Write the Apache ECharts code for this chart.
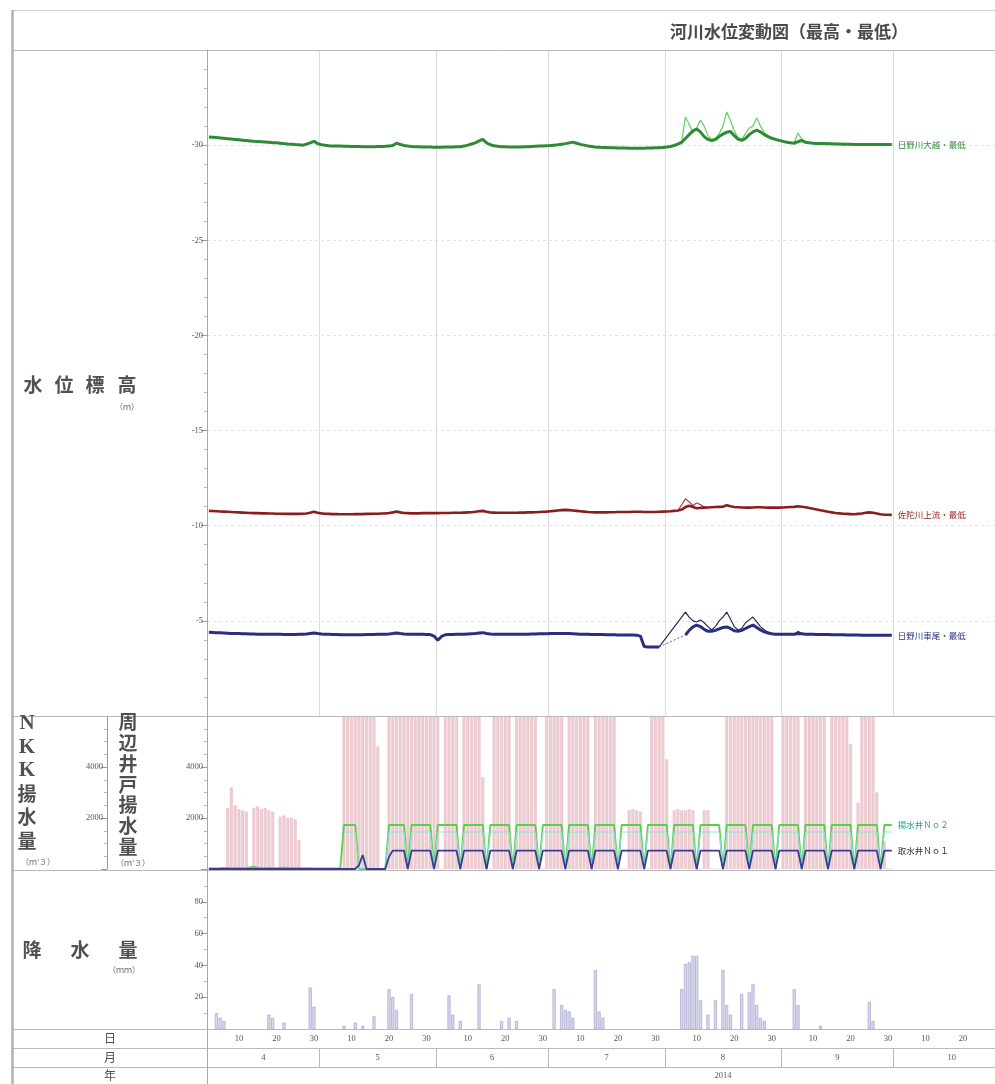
<!DOCTYPE html>
<html>
<head>
<meta charset="utf-8">
<script src="https://cdn.jsdelivr.net/npm/echarts@6/dist/echarts.min.js"></script>
<style>
html,body{margin:0;padding:0;background:#fff;}
#chart{width:995px;height:1084px;}
</style>
</head>
<body>
<div id="chart"></div>
<script>
// ---- calendar (day 0 = 2014-04-01) ----
const DAY_MAX = 210;
const monthStarts = [0, 30, 61, 91, 122, 153, 183, 214];
const monthNames = ['4', '5', '6', '7', '8', '9', '10'];
const dayMarks = [10, 20, 30];
const yearName = '2014';
const YEAR_LABEL_AT = 137.5;

// ---- river water level, daily minimum (m) ----
const ohkoshiMin = [
  30.43,30.42,30.40,30.38,30.36,30.34,30.32,30.30,30.28,30.26,
  30.24,30.22,30.20,30.19,30.18,30.17,30.15,30.13,30.12,30.10,
  30.08,30.06,30.05,30.03,30.02,30.00,30.05,30.12,30.20,30.08,
  30.02,29.99,29.97,29.96,29.95,29.95,29.94,29.94,29.93,29.93,
  29.93,29.92,29.92,29.92,29.92,29.93,29.93,29.94,29.96,29.98,
  30.10,30.04,29.98,29.95,29.93,29.92,29.91,29.90,29.90,29.90,
  29.89,29.89,29.89,29.90,29.90,29.90,29.91,29.92,29.95,30.00,
  30.06,30.12,30.22,30.30,30.12,30.02,29.97,29.94,29.92,29.91,
  29.90,29.90,29.90,29.90,29.91,29.92,29.93,29.94,29.95,29.96,
  29.97,29.98,30.00,30.02,30.05,30.08,30.12,30.16,30.10,30.04,
  30.00,29.96,29.93,29.90,29.89,29.88,29.87,29.86,29.86,29.85,
  29.85,29.85,29.84,29.84,29.84,29.84,29.84,29.85,29.85,29.86,
  29.86,29.88,29.90,29.93,29.98,30.05,30.15,30.35,30.55,30.75,
  30.85,30.70,30.45,30.30,30.24,30.30,30.45,30.58,30.68,30.72,
  30.50,30.32,30.25,30.35,30.55,30.70,30.79,30.70,30.55,30.45,
  30.36,30.30,30.25,30.20,30.15,30.12,30.10,30.18,30.25,30.15,
  30.12,30.10,30.09,30.08,30.08,30.07,30.07,30.06,30.06,30.05,
  30.05,30.05,30.04,30.04,30.04,30.03,30.03,30.03,30.03,30.03,
  30.03,30.03,30.03
];
const sadaMin = [
  10.78,10.77,10.76,10.75,10.74,10.73,10.72,10.71,10.70,10.69,
  10.68,10.67,10.66,10.66,10.65,10.65,10.64,10.64,10.63,10.63,
  10.62,10.62,10.62,10.62,10.62,10.63,10.64,10.68,10.74,10.68,
  10.65,10.63,10.62,10.61,10.61,10.60,10.60,10.60,10.60,10.61,
  10.61,10.61,10.62,10.62,10.63,10.63,10.64,10.65,10.67,10.70,
  10.74,10.70,10.67,10.66,10.65,10.65,10.65,10.66,10.66,10.66,
  10.66,10.66,10.67,10.67,10.67,10.68,10.68,10.68,10.69,10.70,
  10.71,10.73,10.76,10.78,10.73,10.70,10.69,10.68,10.68,10.68,
  10.68,10.68,10.68,10.69,10.69,10.70,10.70,10.71,10.72,10.73,
  10.74,10.76,10.78,10.80,10.82,10.83,10.82,10.80,10.78,10.76,
  10.74,10.72,10.71,10.70,10.70,10.70,10.70,10.71,10.71,10.72,
  10.72,10.72,10.72,10.73,10.73,10.73,10.72,10.72,10.72,10.72,
  10.73,10.74,10.75,10.76,10.78,10.80,10.85,10.98,11.05,10.98,
  10.92,10.94,10.95,10.96,10.97,10.98,10.99,11.00,11.08,11.02,
  10.98,10.97,10.96,10.95,10.95,10.96,10.97,10.97,10.96,10.95,
  10.95,10.95,10.95,10.96,10.97,10.98,10.99,11.02,11.00,10.97,
  10.93,10.89,10.85,10.81,10.77,10.73,10.70,10.67,10.65,10.63,
  10.62,10.61,10.60,10.62,10.64,10.68,10.70,10.68,10.64,10.60,
  10.58,10.58,10.57
];
const kuzumoMin = [
  4.40,4.39,4.38,4.37,4.36,4.35,4.34,4.33,4.33,4.32,
  4.32,4.31,4.31,4.30,4.30,4.30,4.29,4.29,4.29,4.29,
  4.28,4.28,4.28,4.28,4.29,4.30,4.31,4.34,4.36,4.33,
  4.31,4.30,4.29,4.28,4.28,4.27,4.27,4.27,4.27,4.27,
  4.27,4.27,4.28,4.28,4.28,4.29,4.29,4.30,4.31,4.33,
  4.36,4.33,4.31,4.30,4.29,4.29,4.29,4.29,4.28,4.28,
  4.20,3.98,4.18,4.27,4.28,4.28,4.29,4.29,4.30,4.31,
  4.32,4.33,4.36,4.38,4.34,4.31,4.30,4.29,4.29,4.29,
  4.29,4.29,4.29,4.30,4.30,4.30,4.31,4.31,4.32,4.32,
  4.32,4.33,4.33,4.34,4.34,4.34,4.33,4.32,4.31,4.30,
  4.29,4.29,4.28,4.28,4.28,4.28,4.27,4.27,4.27,4.26,
  4.26,4.26,4.26,4.26,4.25,4.20,3.65,3.63,3.63,3.63,
  3.63,null,null,null,null,null,null,4.26,4.50,4.68,
  4.78,4.70,4.55,4.45,4.45,4.50,4.58,4.65,4.68,4.60,
  4.48,4.45,4.50,4.60,4.70,4.78,4.65,4.52,4.42,4.36,
  4.32,4.30,4.29,4.29,4.29,4.29,4.30,4.34,4.32,4.30,
  4.29,4.29,4.28,4.28,4.28,4.28,4.27,4.27,4.27,4.27,
  4.26,4.26,4.26,4.26,4.25,4.25,4.25,4.25,4.25,4.24,
  4.24,4.24,4.24
];
// missing-record stretch, drawn dotted
const kuzumoMinGap = [[120, 3.63], [127, 4.26]];

// ---- river water level, daily maximum around the August floods ([day, m]) ----
const ohkoshiMax = [
  [120,29.88],[124,29.98],[126,30.20],[127,31.48],[128,31.10],[129,30.64],[130,30.90],
  [131,31.32],[132,31.00],[133,30.50],[134,30.30],[135,30.35],[136,30.60],[137,31.00],
  [138,31.74],[139,31.30],[140,30.75],[141,30.40],[142,30.30],[143,30.60],[144,30.90],
  [145,31.00],[146,31.43],[147,31.00],[148,30.65],[149,30.50],[150,30.40],[151,30.32],
  [152,30.25],[153,30.20],[154,30.15],[155,30.12],[156,30.15],[157,30.64],[158,30.30],
  [159,30.15],[160,30.10]
];
const sadaMax = [
  [124,10.78],[125,10.80],[126,11.10],[127,11.42],[128,11.25],[129,11.05],[130,11.20],
  [131,11.10],[132,11.00],[133,10.96]
];
const kuzumoMax = [
  [119,3.63],[120,3.63],[127,5.46],[128,5.20],[129,5.00],[130,4.94],[131,5.05],
  [132,4.90],[133,4.70],[134,4.52],[135,4.70],[136,5.00],[137,5.20],[138,5.46],
  [139,5.10],[140,4.70],[141,4.52],[142,4.60],[143,4.90],[144,5.05],[145,5.20],
  [146,4.95],[147,4.70],[148,4.52],[149,4.41],[150,4.33],[151,4.30],[156,4.30],
  [157,4.45],[158,4.32],[159,4.30]
];

// ---- pumping (m3/day), one row per week starting Tuesday ----
const nearbyWells = [
  [0,0,0,0,0,2400,3200],
  [2500,2350,2300,2250,0,2400,2450],
  [2350,2400,2300,2250,0,2050,2100],
  [2000,2000,1950,1150,0,0,0],
  [0,0,0,0,0,0,0],
  [0,6400,6400,6400,6400,6400,6400],
  [6400,6400,6400,4800,0,0,6400],
  [6400,6400,6400,6400,6400,6400,6400],
  [6400,6400,6400,6400,6400,6400,0],
  [6400,6400,6400,6400,0,6400,6400],
  [6400,6400,6400,3600,0,0,6400],
  [6400,6400,6400,6400,0,6400,6400],
  [6400,6400,6400,6400,0,0,6400],
  [6400,6400,6400,6400,0,6400,6400],
  [6400,6400,6400,6400,0,6400,6400],
  [6400,6400,6400,6400,0,0,0],
  [2300,2350,2300,2250,0,0,6400],
  [6400,6400,6400,4300,0,2300,2350],
  [2300,2300,2350,2300,0,0,2300],
  [2300,0,0,0,0,6400,6400],
  [6400,6400,6400,6400,6400,6400,6400],
  [6400,6400,6400,6400,0,0,6400],
  [6400,6400,6400,6400,0,6400,6400],
  [6400,6400,6400,6400,0,6400,6400],
  [6400,6400,6400,4900,0,2600,6400],
  [6400,6400,6400,3000,0,1100,0],
  [0]
];
const wellNo2 = [
  [20,30,20,30,40,40,30],
  [30,40,30,40,60,90,50],
  [30,30,40,30,30,40,50],
  [40,30,30,30,30,30,30],
  [20,20,20,20,20,20,20],
  [20,1725,1725,1725,1725,0,0],
  [0,0,0,0,0,0,1725],
  [1725,1725,1725,1725,0,1725,1725],
  [1725,1725,1725,1725,0,1725,1725],
  [1725,1725,1725,1725,0,1725,1725],
  [1725,1725,1725,1725,0,1725,1725],
  [1725,1725,1725,1725,0,1725,1725],
  [1725,1725,1725,1725,0,1725,1725],
  [1725,1725,1725,1725,0,1725,1725],
  [1725,1725,1725,1725,0,1725,1725],
  [1725,1725,1725,1725,0,1725,1725],
  [1725,1725,1725,1725,0,1725,1725],
  [1725,1725,1725,1725,0,1725,1725],
  [1725,1725,1725,1725,0,1725,1725],
  [1725,1725,1725,1725,0,1725,1725],
  [1725,1725,1725,1725,0,1725,1725],
  [1725,1725,1725,1725,0,1725,1725],
  [1725,1725,1725,1725,0,1725,1725],
  [1725,1725,1725,1725,0,1725,1725],
  [1725,1725,1725,1725,0,1725,1725],
  [1725,1725,1725,1725,0,1725,1725],
  [1725]
];
const wellNo2b = [
  [null,null,null,null,null,null,null],
  [null,null,null,null,null,null,null],
  [null,null,null,null,null,null,null],
  [null,null,null,null,null,null,null],
  [null,null,null,null,null,null,null],
  [null,1450,1450,1450,1450,0,0],
  [0,0,0,0,0,0,1450],
  [1450,1450,1450,1450,0,1450,1450],
  [1450,1450,1450,1450,0,1450,1450],
  [1450,1450,1450,1450,0,1450,1450],
  [1450,1450,1450,1450,0,1450,1450],
  [1450,1450,1450,1450,0,1450,1450],
  [1450,1450,1450,1450,0,1450,1450],
  [1450,1450,1450,1450,0,1450,1450],
  [1450,1450,1450,1450,0,1450,1450],
  [1450,1450,1450,1450,0,1450,1450],
  [1450,1450,1450,1450,0,1450,1450],
  [1450,1450,1450,1450,0,1450,1450],
  [1450,1450,1450,1450,0,1450,1450],
  [1450,1450,1450,1450,0,1450,1450],
  [1450,1450,1450,1450,0,1450,1450],
  [1450,1450,1450,1450,0,1450,1450],
  [1450,1450,1450,1450,0,1450,1450],
  [1450,1450,1450,1450,0,1450,1450],
  [1450,1450,1450,1450,0,1450,1450],
  [1450,1450,1450,1450,0,1450,1450],
  [1450]
];
const wellNo1 = [
  [0,0,0,0,0,0,0],
  [0,0,0,0,0,0,0],
  [0,0,0,0,0,0,0],
  [0,0,0,0,0,0,0],
  [0,0,0,0,0,0,0],
  [0,0,0,0,0,150,550],
  [0,0,0,0,0,0,480],
  [720,720,720,720,0,720,720],
  [720,720,720,720,0,720,720],
  [720,720,720,720,0,720,720],
  [720,720,720,720,0,720,720],
  [720,720,720,720,0,720,720],
  [720,720,720,720,0,720,720],
  [720,720,720,720,0,720,720],
  [720,720,720,720,0,720,720],
  [720,720,720,720,0,720,720],
  [720,720,720,720,0,720,720],
  [720,720,720,720,0,720,720],
  [720,720,720,720,0,720,720],
  [720,720,720,720,0,720,720],
  [720,720,720,720,0,720,720],
  [720,720,720,720,0,720,720],
  [720,720,720,720,0,720,720],
  [720,720,720,720,0,720,720],
  [720,720,720,720,0,720,720],
  [720,720,720,720,0,720,720],
  [720]
];

// ---- daily rainfall ([day, mm]) ----
const rainfall = [
  [2,10],[3,7],[4,5],[16,9],[17,7],[20,4],[27,26],[28,14],
  [36,2],[39,4],[41,2],[44,8],[48,25],[49,20],[50,12],[54,22],
  [64,21],[65,9],[67,5],[72,28],[78,5],[80,7],[82,5],
  [92,25],[94,15],[95,12],[96,11],[97,7],[103,37],[104,11],[105,7],
  [126,25],[127,41],[128,42],[129,46],[130,46],[131,18],[133,9],
  [135,18],[137,37],[138,15],[139,9],[142,22],[144,23],[145,28],[146,15],[147,7],[148,5],
  [156,25],[157,15],[163,2],[176,17],[177,5]
];

// ---- helpers ----
const flat = rows => rows.reduce((a, r) => a.concat(r), []);
const daily = arr => arr.map((v, i) => [i + 0.5, v]);
const dayPairs = arr => arr.map(p => [p[0] + 0.5, p[1]]);

const JP = '"Noto Sans CJK JP", sans-serif';
const SERIF = '"Liberation Serif", "DejaVu Serif", serif';
const FRAME = '#b9b9b9';
const AXIS = '#9a9a9a';
const CAPTION = '#505050';

// day-of-month labels sit just left of the day they name
const dayLabelText = {};
const dayLabelPos = [];
monthStarts.slice(0, -1).forEach(s => {
  dayMarks.forEach(n => {
    const p = s + n - 1.5;
    if (p < DAY_MAX) { dayLabelPos.push(p); dayLabelText[p.toFixed(1)] = String(n); }
  });
});
const monthLabelText = {};
const monthCenters = monthNames.map((m, i) => {
  const c = (monthStarts[i] + monthStarts[i + 1]) / 2;
  monthLabelText[c.toFixed(1)] = m;
  return c;
});
const monthBounds = monthStarts.filter(s => s <= DAY_MAX);

const G = [
  { left: 207, top: 50, width: 788, height: 666 },
  { left: 207, top: 716, width: 788, height: 153 },
  { left: 207, top: 870, width: 788, height: 159 }
].map(g => Object.assign({ show: false, containLabel: false, outerBoundsMode: 'none' }, g));

const hiddenX = gi => ({
  gridIndex: gi, type: 'value', min: 0, max: DAY_MAX,
  axisLine: { show: false }, axisTick: { show: false }, axisLabel: { show: false }, splitLine: { show: false }
});
const rowLabel = { fontSize: 8.5, color: '#555', fontFamily: SERIF };

const xAxes = [
  Object.assign(hiddenX(0), {
    axisTick: { show: false, customValues: monthBounds },
    splitLine: { show: true, lineStyle: { color: '#dcdcdc', width: 1 } }
  }),
  hiddenX(1),
  {
    gridIndex: 2, type: 'value', min: 0, max: DAY_MAX, position: 'bottom',
    axisLine: { show: false }, axisTick: { show: false }, splitLine: { show: false },
    axisLabel: Object.assign({ customValues: dayLabelPos, formatter: v => dayLabelText[v.toFixed(1)] || '', margin: 5 }, rowLabel)
  },
  {
    gridIndex: 2, type: 'value', min: 0, max: DAY_MAX, position: 'bottom', offset: 19,
    axisLine: { show: false }, splitLine: { show: false },
    axisTick: { show: true, customValues: monthBounds, length: 19, lineStyle: { color: FRAME } },
    axisLabel: Object.assign({ customValues: monthCenters, formatter: v => monthLabelText[v.toFixed(1)] || '', margin: 5 }, rowLabel)
  },
  {
    gridIndex: 2, type: 'value', min: 0, max: DAY_MAX, position: 'bottom', offset: 38,
    axisLine: { show: false }, axisTick: { show: false }, splitLine: { show: false },
    axisLabel: Object.assign({ customValues: [YEAR_LABEL_AT], formatter: () => yearName, margin: 4 }, rowLabel)
  }
];

const tickLabel = { fontSize: 8.5, color: '#555', fontFamily: SERIF, margin: 4 };
const yCommon = (extra) => Object.assign({
  type: 'value',
  axisLine: { show: true, lineStyle: { color: AXIS } },
  axisTick: { show: true, length: 6, lineStyle: { color: AXIS } },
  splitLine: { show: false },
  minorSplitLine: { show: false }
}, extra);
const minor = n => ({ show: true, splitNumber: n, length: 3, lineStyle: { color: '#b5b5b5' } });

const yAxes = [
  yCommon({
    gridIndex: 0, min: 0, max: 35, interval: 5, minorTick: minor(5),
    axisLabel: Object.assign({ formatter: v => (v > 0 && v < 35) ? '-' + v : '' }, tickLabel),
    splitLine: { show: true, lineStyle: { color: '#e3e3e3', type: [3, 3] } }
  }),
  yCommon({
    gridIndex: 1, min: 0, max: 6000, interval: 2000, position: 'left', minorTick: minor(4),
    axisLabel: Object.assign({ formatter: v => (v > 0 && v < 6000) ? String(v) : '' }, tickLabel)
  }),
  yCommon({
    gridIndex: 1, min: 0, max: 6000, interval: 2000, position: 'left', offset: 100, minorTick: minor(4),
    axisLabel: Object.assign({ formatter: v => (v > 0 && v < 6000) ? String(v) : '' }, tickLabel)
  }),
  yCommon({
    gridIndex: 2, min: 0, max: 100, interval: 20, minorTick: minor(2),
    axisLabel: Object.assign({ formatter: v => (v > 0 && v < 100) ? String(v) : '' }, tickLabel)
  })
];

const lineSeries = (name, data, xi, yi, color, width, label, extra) => Object.assign({
  type: 'line', name, data, xAxisIndex: xi, yAxisIndex: yi,
  showSymbol: false, symbol: 'none', connectNulls: false,
  lineStyle: { color, width }, itemStyle: { color },
  endLabel: label ? { show: true, formatter: label, color, fontSize: 8.5, fontFamily: JP, distance: 6 } : { show: false },
  emphasis: { disabled: true }, silent: true
}, extra || {});

const series = [
  lineSeries('日野川大越・最高', dayPairs(ohkoshiMax), 0, 0, '#68d266', 1.3, null, { connectNulls: true }),
  lineSeries('日野川大越・最低', daily(ohkoshiMin), 0, 0, '#2f8a36', 3, '日野川大越・最低'),
  lineSeries('佐陀川上流・最高', dayPairs(sadaMax), 0, 0, '#9c2a2a', 1.1, null, { connectNulls: true }),
  lineSeries('佐陀川上流・最低', daily(sadaMin), 0, 0, '#8a1e1e', 2.6, '佐陀川上流・最低'),
  lineSeries('日野川車尾・最高', dayPairs(kuzumoMax), 0, 0, '#1e1e5c', 1.1, null, { connectNulls: true }),
  lineSeries('日野川車尾・欠測', dayPairs(kuzumoMinGap), 0, 0, '#5a5a8a', 1, null,
    { lineStyle: { color: '#5a5a8a', width: 1, type: [2, 2] } }),
  lineSeries('日野川車尾・最低', daily(kuzumoMin), 0, 0, '#2b2e7e', 3, '日野川車尾・最低'),
  {
    type: 'bar', name: '周辺井戸揚水量', data: daily(flat(nearbyWells)), xAxisIndex: 1, yAxisIndex: 1,
    barWidth: 3, clip: true, silent: true,
    itemStyle: { color: 'rgba(228,176,184,0.62)', borderColor: 'rgba(214,150,160,0.55)', borderWidth: 0.4 }
  },
  lineSeries('揚水井Ｎｏ２', daily(flat(wellNo2)), 1, 2, '#52d34a', 1.8, '揚水井Ｎｏ２'),
  lineSeries('揚水井Ｎｏ２b', daily(flat(wellNo2b)), 1, 2, '#8fe0d8', 1, null),
  lineSeries('取水井Ｎｏ１', daily(flat(wellNo1)), 1, 2, '#3b3b96', 1.8, '取水井Ｎｏ１'),
  {
    type: 'bar', name: '降水量', data: dayPairs(rainfall), xAxisIndex: 2, yAxisIndex: 3,
    barWidth: 3, silent: true,
    itemStyle: { color: '#d8d8ee', borderColor: '#9a9ac6', borderWidth: 0.6 }
  }
];
// the No.2 label is coloured teal like its inner trace
series[8].endLabel.color = '#2aa58e';
series[10].endLabel.color = '#333333';

// ---- frame and side captions ----
const hLine = (y, x1, x2, w, c) => ({ type: 'line', silent: true, z: 50,
  shape: { x1, y1: y, x2, y2: y }, style: { stroke: c || FRAME, lineWidth: w || 1 } });
const vLine = (x, y1, y2, w, c) => ({ type: 'line', silent: true, z: 50,
  shape: { x1: x, y1, x2: x, y2 }, style: { stroke: c || FRAME, lineWidth: w || 1 } });
const txt = (s, x, y, size, font, color, weight) => ({ type: 'text', silent: true, z: 60, x, y,
  style: { text: s, fontSize: size, fontFamily: font || JP, fill: color || CAPTION, fontWeight: weight || 'normal',
    align: 'center', verticalAlign: 'middle', textAlign: 'center', textVerticalAlign: 'middle' } });

const graphics = [
  hLine(10.5, 12, 995, 1.2, '#cfcfcf'),
  hLine(50.5, 12, 995),
  hLine(716.5, 12, 995),
  hLine(870.5, 12, 995),
  hLine(1029.5, 12, 995),
  hLine(1048.5, 12, 995),
  hLine(1067.5, 12, 995),
  vLine(12.5, 10, 1084, 2.5, '#b0b0b0'),
  vLine(207.5, 50, 1084, 1, '#a8a8a8'),
  txt('河川水位変動図（最高・最低）', 789, 32, 17, JP, '#4a4a4a', 'bold'),
  txt('（ｍ）', 127, 407, 8, JP, '#666'),
  txt('（ｍ’３）', 38, 862, 8, JP, '#666'),
  txt('（ｍ’３）', 133, 863, 8, JP, '#666'),
  txt('（ｍｍ）', 124, 970, 8, JP, '#666'),
  txt('日', 110, 1038, 12, JP, CAPTION),
  txt('月', 110, 1057, 12, JP, CAPTION),
  txt('年', 110, 1075, 12, JP, CAPTION)
];
[['水', 33], ['位', 64], ['標', 95], ['高', 127]].forEach(([c, x]) => graphics.push(txt(c, x, 385, 19, JP, CAPTION, 'bold')));
[['降', 32], ['水', 80], ['量', 128]].forEach(([c, x]) => graphics.push(txt(c, x, 950, 19, JP, CAPTION, 'bold')));
[['N', SERIF], ['K', SERIF], ['K', SERIF], ['揚', JP], ['水', JP], ['量', JP]].forEach(([c, f], i) =>
  graphics.push(txt(c, 27, 724 + i * 23.3, f === SERIF ? 21 : 19, f, CAPTION, 'bold')));
['周', '辺', '井', '戸', '揚', '水', '量'].forEach((c, i) =>
  graphics.push(txt(c, 128, 722 + i * 20.8, 19, JP, CAPTION, 'bold')));

const chart = echarts.init(document.getElementById('chart'));
chart.setOption({
  animation: false,
  backgroundColor: '#ffffff',
  grid: G,
  xAxis: xAxes,
  yAxis: yAxes,
  series,
  graphic: { elements: graphics }
});
</script>
</body>
</html>
